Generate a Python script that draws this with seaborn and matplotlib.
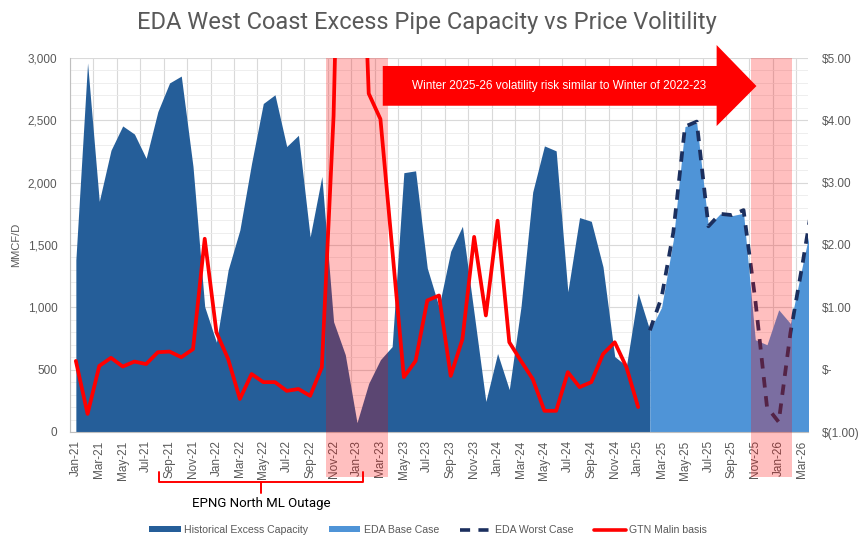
import numpy as np
import pandas as pd
import matplotlib
matplotlib.use("Agg")
import matplotlib.pyplot as plt
import matplotlib.transforms as mtransforms
from matplotlib.patches import Polygon, Rectangle, Patch
from matplotlib.lines import Line2D
import seaborn as sns

# month categories (Jan-21 .. Apr-26, last one sits past the plot edge)
months = pd.date_range("2021-01-01", "2026-04-01", freq="MS").strftime("%b-%y").tolist()

# historical excess capacity, MMCF/D, Jan-21 .. Feb-25
hist_capacity = [1380, 2960, 1850, 2260, 2455, 2390, 2195, 2570, 2800, 2855,
                 2130, 1005, 720, 1300, 1620, 2155, 2635, 2705, 2290, 2380,
                 1565, 2050, 885, 620, 75, 390, 580, 685, 2080, 2095,
                 1315, 1005, 1450, 1650, 950, 245, 630, 340, 1005, 1925,
                 2295, 2255, 1125, 1720, 1690, 1325, 605, 530, 1115, 815]
# EDA base / worst case, Feb-25 .. Apr-26
base_case = [815, 1000, 1540, 2450, 2480, 1650, 1750, 1735, 1755,
             740, 700, 980, 870, 1325, 1765]
worst_case = [815, 1080, 1600, 2450, 2490, 1650, 1750, 1740, 1780,
              1060, 200, 80, 795, 1330, 1900]
# GTN Malin basis, $/MMBtu, Jan-21 .. Jan-25
malin_basis = [0.14, -0.71, 0.06, 0.19, 0.05, 0.13, 0.09, 0.28, 0.29, 0.20,
               0.33, 2.10, 0.60, 0.17, -0.47, -0.07, -0.20, -0.20, -0.34, -0.31,
               -0.42, 0.04, 4.07, 12.0, 9.5, 4.43, 4.02, 1.95, -0.12, 0.14,
               1.11, 1.19, -0.10, 0.49, 2.13, 0.87, 2.39, 0.44, 0.14, -0.15,
               -0.66, -0.66, -0.04, -0.28, -0.20, 0.25, 0.44, 0.04, -0.60]

hist_x = np.arange(len(hist_capacity))
base_x = np.arange(len(hist_capacity) - 1, len(hist_capacity) - 1 + len(base_case))
df_worst = pd.DataFrame({"x": base_x, "v": worst_case})
df_malin = pd.DataFrame({"x": np.arange(len(malin_basis)), "v": malin_basis})

DARK = "#255E99"
LIGHT = "#4F94D7"
NAVY = "#1B2F5E"
RED = "#FF0000"
GREY = "#595959"

sns.set_theme(style="white")
plt.rcParams["font.family"] = ["Liberation Sans", "DejaVu Sans"]
NARROW = ["Liberation Sans Narrow", "Liberation Sans", "DejaVu Sans"]

fig = plt.figure(figsize=(8.65, 5.48), dpi=100)
ax = fig.add_axes([70 / 865, 116 / 548, 738 / 865, 374 / 548])

# areas
ax.fill_between(hist_x, hist_capacity, color=DARK, lw=0, zorder=2)
ax.fill_between(base_x, base_case, color=LIGHT, lw=0, zorder=2.1)
sns.lineplot(data=df_worst, x="x", y="v", ax=ax, color=NAVY, lw=2.7,
             linestyle=(0, (2.8, 2.3)), zorder=3)

ax.set_xlim(-0.5, 62.5)
ax.set_ylim(0, 3000)
ax.set_yticks(np.arange(0, 3001, 500))
ax.set_yticks(np.arange(0, 3001, 100), minor=True)
ax.set_yticklabels([f"{v:,}" for v in range(0, 3001, 500)])
ax.set_xticks(np.arange(0, 63, 2))
ax.set_xticks(np.arange(-0.5, 62, 2), minor=True)
ax.set_xticklabels(months[0:63:2], rotation=90, family=NARROW)
ax.tick_params(axis="x", which="major", length=0, pad=6, labelsize=8.5, labelcolor=GREY)
ax.tick_params(axis="x", which="minor", length=4, width=0.8, color="#BFBFBF", direction="out")
ax.tick_params(axis="y", which="both", length=0, pad=9, labelsize=8.5, labelcolor=GREY)
ax.grid(which="major", axis="y", color="#D9D9D9", lw=0.8)
ax.grid(which="minor", axis="y", color="#EBEBEB", lw=0.6)
ax.grid(which="minor", axis="x", color="#D9D9D9", lw=0.8)
ax.set_axisbelow(True)
for s in ["top", "right"]:
    ax.spines[s].set_visible(False)
for s in ["left", "bottom"]:
    ax.spines[s].set_color("#BFBFBF")
    ax.spines[s].set_linewidth(0.8)
ax.set_xlabel("")
ax.set_ylabel("MMCF/D", fontsize=8, color=GREY)
ax.yaxis.set_label_coords(-0.066, 0.5)

# price axis
ax2 = ax.twinx()
sns.lineplot(data=df_malin, x="x", y="v", ax=ax2, color=RED, lw=2.7, zorder=3)
ax2.set_ylim(-1, 5)
ax2.set_yticks(np.arange(-1, 5.1, 1))
ax2.set_yticklabels(["$(1.00)" if v < 0 else ("$-" if v == 0 else f"${v:.2f}")
                     for v in np.arange(-1, 5.1, 1)])
ax2.tick_params(axis="y", length=0, pad=10, labelsize=8.5, labelcolor=GREY)
for s in ax2.spines.values():
    s.set_visible(False)
ax2.set_ylabel("")
ax2.set_xlim(-0.5, 62.5)

# winter shading bands (reach down over the tick labels)
trans = mtransforms.blended_transform_factory(ax2.transData, ax2.transAxes)
for x0, x1 in [(21.36, 26.63), (57.65, 61.13)]:
    ax2.add_patch(Rectangle((x0, -0.12), x1 - x0, 1.12, transform=trans,
                            facecolor=RED, alpha=0.25, lw=0, clip_on=False, zorder=5))

# big arrow with message
arrow_xy = [(26.2, 2936), (54.7, 2936), (54.7, 3104), (58.1, 2775),
            (54.7, 2454), (54.7, 2617), (26.2, 2617)]
ax2.add_patch(Polygon(arrow_xy, closed=True, transform=ax.transData,
                      facecolor=RED, lw=0, clip_on=False, zorder=6))
ax2.text(41.25, 2775, "Winter 2025-26 volatility risk similar to Winter of 2022-23",
         transform=ax.transData, color="white", fontsize=8.5, family=NARROW,
         ha="center", va="center", zorder=7)

# outage bracket
bx = mtransforms.blended_transform_factory(ax.transData, ax.transAxes)
ax.plot([7.1, 7.1, 24.55, 24.55], [-0.106, -0.133, -0.133, -0.106], color=RED,
        lw=1.4, transform=bx, clip_on=False)
ax.plot([15.8, 15.8], [-0.133, -0.163], color=RED, lw=1.4, transform=bx, clip_on=False)
ax.text(15.8, -0.19, "EPNG North ML Outage", transform=bx, ha="center", va="center",
        fontsize=9.5, color="black", family=["Roboto", "DejaVu Sans"])

# title
fig.text(0.494, 1 - 22 / 548, "EDA West Coast Excess Pipe Capacity vs Price Volitility",
         ha="center", va="center", fontsize=17, color=GREY, family=["Roboto", "DejaVu Sans"])

# legend
handles = [Patch(facecolor=DARK, edgecolor="none"),
           Patch(facecolor=LIGHT, edgecolor="none"),
           Line2D([0], [0], color=NAVY, lw=2.6, linestyle=(0, (2.8, 2.3))),
           Line2D([0], [0], color=RED, lw=2.6)]
labels = ["Historical Excess Capacity", "EDA Base Case", "EDA Worst Case", "GTN Malin basis"]
leg = fig.legend(handles, labels, loc="center", bbox_to_anchor=(428 / 865, 18 / 548),
                 ncol=4, frameon=False, handlelength=3.0, handleheight=0.5,
                 handletextpad=0.3, columnspacing=2.0,
                 prop={"family": NARROW, "size": 7.6})
for t in leg.get_texts():
    t.set_color(GREY)

fig.savefig("out.png", dpi=100)
